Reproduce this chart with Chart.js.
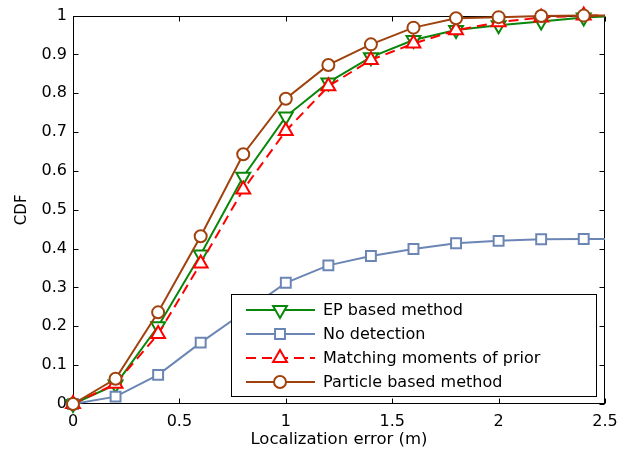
<!DOCTYPE html>
<html><head><meta charset="utf-8">
<script src="https://cdn.jsdelivr.net/npm/chart.js@4.4.1/dist/chart.umd.min.js"></script>
<style>html,body{margin:0;padding:0;background:#fff}#wrap{width:641px;height:460px}</style>
</head><body><div id="wrap"><canvas id="c" width="641" height="460"></canvas></div>
<script>
// ---- data ----
const errors = [0, 0.2, 0.4, 0.6, 0.8, 1.0, 1.2, 1.4, 1.6, 1.8, 2.0, 2.2, 2.4, 2.6];
const epBased = [0, 0.05, 0.2, 0.385, 0.585, 0.74, 0.828, 0.893, 0.937, 0.963, 0.975, 0.985, 0.995, 1.0];
const noDetection = [0, 0.019, 0.075, 0.158, 0.235, 0.312, 0.357, 0.381, 0.399, 0.414, 0.42, 0.424, 0.425, 0.425];
const matchingMoments = [0, 0.052, 0.18, 0.362, 0.552, 0.703, 0.818, 0.886, 0.928, 0.962, 0.983, 0.995, 1.0, 1.0];
const particleBased = [0, 0.065, 0.236, 0.432, 0.643, 0.786, 0.873, 0.926, 0.969, 0.993, 0.996, 0.999, 1.0, 1.0];
const seriesNames = ['EP based method', 'No detection', 'Matching moments of prior', 'Particle based method'];
const xTicks = [0, 0.5, 1, 1.5, 2, 2.5];
const xTickLabels = ['0', '0.5', '1', '1.5', '2', '2.5'];
const yTicks = [0, 0.1, 0.2, 0.3, 0.4, 0.5, 0.6, 0.7, 0.8, 0.9, 1];
const yTickLabels = ['0', '0.1', '0.2', '0.3', '0.4', '0.5', '0.6', '0.7', '0.8', '0.9', '1'];
const xTitle = 'Localization error (m)';
const yTitle = 'CDF';

const pts = arr => arr.map((v, i) => ({x: errors[i], y: v}));
const FONT = 'DejaVu Sans';
Chart.defaults.font.family = FONT;
Chart.defaults.font.size = 16;
Chart.defaults.color = '#000';

const clip = {left: 12, top: 12, right: 0, bottom: 12};
const datasets = [
  {label: seriesNames[0], data: pts(epBased), borderColor: '#0a860a', pointStyle: 'triangle', rotation: 180, pointRadius: 8, order: 4, borderDash: []},
  {label: seriesNames[1], data: pts(noDetection), borderColor: '#6b86b5', pointStyle: 'rect', rotation: 0, pointRadius: 7, order: 3, borderDash: []},
  {label: seriesNames[2], data: pts(matchingMoments), borderColor: '#ff0000', pointStyle: 'triangle', rotation: 0, pointRadius: 8, order: 2, borderDash: [10, 6]},
  {label: seriesNames[3], data: pts(particleBased), borderColor: '#a0420e', pointStyle: 'circle', rotation: 0, pointRadius: 6, order: 1, borderDash: []}
].map(d => Object.assign(d, {
  pointRotation: d.rotation, pointBorderColor: d.borderColor, pointBackgroundColor: '#fff',
  pointBorderWidth: 2, borderWidth: 2, pointHoverRadius: d.pointRadius, fill: false, tension: 0, clip: clip
}));

function drawMarker(ctx, style, x, y, r, rot) {
  ctx.save();
  ctx.translate(x, y);
  ctx.rotate(rot * Math.PI / 180);
  ctx.beginPath();
  if (style === 'circle') ctx.arc(0, 0, r, 0, Math.PI * 2);
  else if (style === 'rect') { const s = r * Math.SQRT1_2; ctx.rect(-s, -s, 2 * s, 2 * s); }
  else if (style === 'triangle') {
    for (let k = 0; k < 3; k++) { const a = k * 2 * Math.PI / 3; const px = Math.sin(a) * r, py = -Math.cos(a) * r; k ? ctx.lineTo(px, py) : ctx.moveTo(px, py); }
    ctx.closePath();
  }
  ctx.fill(); ctx.stroke();
  ctx.restore();
}

const frame = {
  id: 'frame',
  beforeDatasetsDraw(chart) {
    const {ctx, chartArea: a, scales: {x, y}} = chart;
    const L = Math.round(a.left) + 0.5, R = Math.round(a.right) - 0.5, T = Math.round(a.top) + 0.5, B = Math.round(a.bottom) - 0.5;
    ctx.save();
    ctx.strokeStyle = '#000'; ctx.lineWidth = 1;
    ctx.strokeRect(L, T, R - L, B - T);
    ctx.beginPath();
    const tl = 5;
    xTicks.forEach(v => { const px = Math.round(x.getPixelForValue(v)) + 0.5; ctx.moveTo(px, B); ctx.lineTo(px, B - tl); ctx.moveTo(px, T); ctx.lineTo(px, T + tl); });
    yTicks.forEach(v => { const py = Math.round(y.getPixelForValue(v)) + 0.5; ctx.moveTo(L, py); ctx.lineTo(L + tl, py); ctx.moveTo(R, py); ctx.lineTo(R - tl, py); });
    ctx.stroke();
    ctx.restore();
  },
  afterDatasetsDraw(chart) {
    const {ctx, chartArea: a} = chart;
    const right = Math.round(a.right) - 8, bottom = Math.round(a.bottom) - 7;
    const w = 366, h = 103;
    const left = right - w, top = bottom - h;
    ctx.save();
    ctx.fillStyle = '#fff'; ctx.fillRect(left, top, w, h);
    ctx.strokeStyle = '#000'; ctx.lineWidth = 1;
    ctx.strokeRect(left + 0.5, top + 0.5, w - 1, h - 1);
    datasets.forEach((d, i) => {
      const cy = top + 16 + i * 24;
      ctx.strokeStyle = d.borderColor; ctx.lineWidth = 2; ctx.setLineDash(d.borderDash);
      ctx.beginPath(); ctx.moveTo(left + 15, cy); ctx.lineTo(left + 84, cy); ctx.stroke();
      ctx.setLineDash([]);
      ctx.fillStyle = '#fff';
      drawMarker(ctx, d.pointStyle, left + 49, cy, d.pointRadius, d.rotation);
      ctx.fillStyle = '#000'; ctx.font = '16px "' + FONT + '"'; ctx.textBaseline = 'middle'; ctx.textAlign = 'left';
      ctx.fillText(d.label, left + 92, cy + 1);
    });
    ctx.restore();
  }
};

new Chart(document.getElementById('c'), {
  type: 'line',
  data: {datasets},
  options: {
    responsive: false, animation: false, devicePixelRatio: 1,
    layout: {padding: {left: 0, top: 10, right: 36, bottom: 0}},
    plugins: {legend: {display: false}, tooltip: {enabled: false}},
    scales: {
      x: {
        type: 'linear', min: 0, max: 2.5,
        grid: {display: false, drawTicks: false}, border: {display: false},
        afterBuildTicks: s => { s.ticks = xTicks.map(v => ({value: v})); },
        afterFit: s => { s.height = 56; },
        ticks: {padding: 8, maxRotation: 0, autoSkip: false, callback: (v, i) => xTickLabels[i]},
        title: {display: true, text: xTitle, font: {size: 16.5}, padding: {top: 0, bottom: 10}}
      },
      y: {
        type: 'linear', min: 0, max: 1,
        grid: {display: false, drawTicks: false}, border: {display: false},
        afterBuildTicks: s => { s.ticks = yTicks.map(v => ({value: v})); },
        afterFit: s => { s.width = 73; },
        ticks: {padding: 6, autoSkip: false, callback: (v, i) => yTickLabels[i]},
        title: {display: true, text: yTitle, font: {size: 15}, padding: {top: 13, bottom: 0}}
      }
    }
  },
  plugins: [frame]
});
</script>
</body></html>
